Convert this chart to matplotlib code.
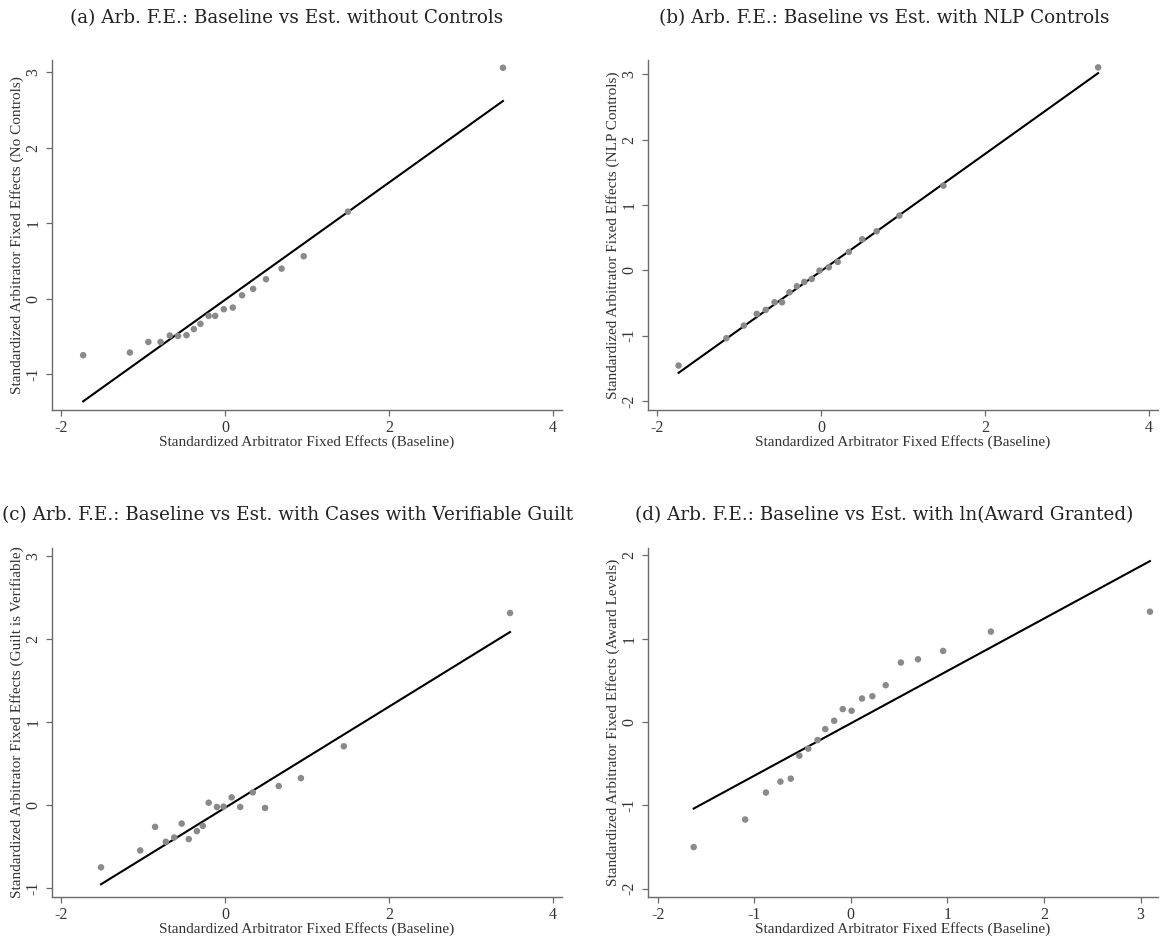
import numpy as np
import matplotlib
matplotlib.use("Agg")
import matplotlib.pyplot as plt

plt.rcParams["axes.unicode_minus"] = False

# panel titles and y labels
titles = [
    "(a) Arb. F.E.: Baseline vs Est. without Controls",
    "(b) Arb. F.E.: Baseline vs Est. with NLP Controls",
    "(c) Arb. F.E.: Baseline vs Est. with Cases with Verifiable Guilt",
    "(d) Arb. F.E.: Baseline vs Est. with ln(Award Granted)",
]
ylabels = [
    "Standardized Arbitrator Fixed Effects (No Controls)",
    "Standardized Arbitrator Fixed Effects (NLP Controls)",
    "Standardized Arbitrator Fixed Effects (Guilt is Verifiable)",
    "Standardized Arbitrator Fixed Effects (Award Levels)",
]
xlabel = "Standardized Arbitrator Fixed Effects (Baseline)"

# (a) no controls
x_a = [-1.73, -1.16, -0.935, -0.786, -0.673, -0.573, -0.47, -0.38, -0.30, -0.20,
       -0.12, -0.014, 0.095, 0.208, 0.343, 0.50, 0.69, 0.96, 1.50, 3.39]
y_a = [-0.745, -0.71, -0.57, -0.57, -0.485, -0.49, -0.48, -0.40, -0.33, -0.225,
       -0.225, -0.137, -0.115, 0.048, 0.132, 0.26, 0.40, 0.564, 1.154, 3.057]

# (b) NLP controls
x_b = [-1.737, -1.154, -0.941, -0.783, -0.674, -0.566, -0.475, -0.385, -0.294, -0.204,
       -0.113, -0.018, 0.095, 0.204, 0.339, 0.502, 0.679, 0.955, 1.493, 3.38]
y_b = [-1.459, -1.04, -0.847, -0.668, -0.607, -0.49, -0.49, -0.337, -0.245, -0.179,
       -0.133, -0.005, 0.046, 0.128, 0.281, 0.474, 0.597, 0.837, 1.296, 3.107]

# (c) guilt is verifiable
x_c = [-1.512, -1.034, -0.853, -0.722, -0.619, -0.528, -0.442, -0.343, -0.271, -0.199,
       -0.099, -0.018, 0.081, 0.185, 0.339, 0.488, 0.655, 0.926, 1.449, 3.476]
y_c = [-0.752, -0.548, -0.264, -0.444, -0.392, -0.224, -0.412, -0.316, -0.252, 0.028,
       -0.024, -0.02, 0.092, -0.024, 0.152, -0.036, 0.228, 0.324, 0.708, 2.316]

# (d) award levels
x_d = [-1.627, -1.094, -0.879, -0.729, -0.622, -0.533, -0.441, -0.345, -0.265, -0.173,
       -0.084, 0.008, 0.115, 0.223, 0.361, 0.518, 0.695, 0.955, 1.450, 3.097]
y_d = [-1.501, -1.170, -0.846, -0.715, -0.679, -0.403, -0.319, -0.216, -0.084, 0.016,
       0.156, 0.136, 0.283, 0.311, 0.443, 0.715, 0.754, 0.854, 1.086, 1.325]

# fitted line (intercept, slope)
fits = [(-0.013, 0.776), (-0.013, 0.897), (-0.034, 0.610), (-0.015, 0.629)]

xs = [x_a, x_b, x_c, x_d]
ys = [y_a, y_b, y_c, y_d]

xlims = [(-2.11, 4.11), (-2.11, 4.11), (-2.11, 4.11), (-2.10, 3.18)]
ylims = [(-1.47, 3.16), (-2.14, 3.22), (-1.11, 3.10), (-2.10, 2.09)]
xticks = [[-2, 0, 2, 4], [-2, 0, 2, 4], [-2, 0, 2, 4], [-2, -1, 0, 1, 2, 3]]
yticks = [[-1, 0, 1, 2, 3], [-2, -1, 0, 1, 2, 3], [-1, 0, 1, 2, 3], [-2, -1, 0, 1, 2]]

W, H = 1161, 941
fig = plt.figure(figsize=(W / 100, H / 100), dpi=100)
fig.patch.set_facecolor("white")

# axes boxes in pixels: left, top, right, bottom
boxes = [(52, 60, 562, 410), (648, 60, 1158, 410),
         (52, 548, 562, 897), (648, 548, 1158, 897)]
title_pos = [(287, 18), (884, 18), (288, 515), (884, 515)]

axis_font = "Liberation Serif"
axis_col = "#6a6a6a"
text_col = "#333333"

for i in range(4):
    l, t, r, b = boxes[i]
    ax = fig.add_axes([l / W, 1 - b / H, (r - l) / W, (b - t) / H])

    ax.scatter(xs[i], ys[i], s=22, color="#8a8a8a", edgecolors="none", zorder=3)

    a0, a1 = fits[i]
    xl = np.array([min(xs[i]), max(xs[i])])
    ax.plot(xl, a0 + a1 * xl, color="black", lw=1.5, zorder=2)

    ax.set_xlim(*xlims[i])
    ax.set_ylim(*ylims[i])
    ax.set_xticks(xticks[i])
    ax.set_yticks(yticks[i])
    ax.set_yticklabels([str(v) for v in yticks[i]], rotation=90, va="center")

    for s in ["top", "right"]:
        ax.spines[s].set_visible(False)
    for s in ["left", "bottom"]:
        ax.spines[s].set_color(axis_col)
        ax.spines[s].set_linewidth(1.0)

    ax.tick_params(direction="out", length=4.5, width=0.9, color=axis_col,
                   labelsize=11.5, labelcolor=text_col, pad=3)
    for lab in ax.get_xticklabels() + ax.get_yticklabels():
        lab.set_family(axis_font)

    ax.set_xlabel(xlabel, fontsize=11, family=axis_font, color=text_col, labelpad=-1)
    ax.set_ylabel(ylabels[i], fontsize=11, family=axis_font, color=text_col, labelpad=1)

    tx, ty = title_pos[i]
    fig.text(tx / W, 1 - ty / H, titles[i], ha="center", va="center",
             fontsize=13.2, family="DejaVu Serif", color="#222222")

fig.savefig("out.png", dpi=100, facecolor="white")
